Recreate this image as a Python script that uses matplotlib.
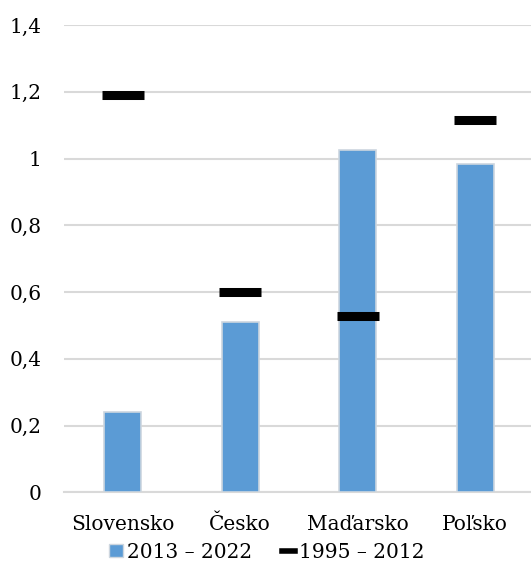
import matplotlib
matplotlib.use("Agg")
import matplotlib.pyplot as plt
from matplotlib.patches import Patch
from matplotlib.lines import Line2D
import numpy as np

krajiny = ["Slovensko", "Česko", "Maďarsko", "Poľsko"]
obdobie_2013_2022 = [0.24, 0.51, 1.026, 0.983]
obdobie_1995_2012 = [1.19, 0.60, 0.527, 1.116]
y_ticks = [0, 0.2, 0.4, 0.6, 0.8, 1.0, 1.2, 1.4]
y_labels = ["0", "0,2", "0,4", "0,6", "0,8", "1", "1,2", "1,4"]

plt.rcParams["font.family"] = ["DejaVu Serif"]
plt.rcParams["font.size"] = 14.5

fig = plt.figure(figsize=(5.31, 5.84), dpi=100)
ax = fig.add_axes([64 / 531, (584 - 492.3) / 584, 470 / 531, 467.3 / 584])

x = np.arange(len(krajiny))
ax.bar(x, obdobie_2013_2022, width=0.315, color="#5B9BD5",
       edgecolor="#cdd6df", linewidth=1.2, zorder=3)
ax.hlines(obdobie_1995_2012, x - 0.178, x + 0.178, color="black",
          linewidth=6.5, zorder=4)

ax.set_xlim(-0.5, 3.5)
ax.set_ylim(0, 1.4)
ax.set_yticks(y_ticks)
ax.set_yticklabels(y_labels)
ax.set_xticks(x)
ax.set_xticklabels(krajiny)
ax.grid(axis="y", color="#d9d9d9", linewidth=1.5, zorder=0)
ax.set_axisbelow(True)
for s in ["top", "right", "left"]:
    ax.spines[s].set_visible(False)
ax.spines["bottom"].set_color("#d9d9d9")
ax.spines["bottom"].set_linewidth(1.5)
ax.tick_params(axis="y", length=0, pad=16, colors="black")
ax.tick_params(axis="x", length=0, pad=16, colors="black")

handles = [Patch(facecolor="#5B9BD5", edgecolor="#cdd6df"),
           Line2D([0], [0], color="black", linewidth=4)]
fig.legend(handles, ["2013 – 2022", "1995 – 2012"], loc="center",
           bbox_to_anchor=(267 / 531, 1 - 552 / 584), ncol=2, frameon=False,
           handlelength=0.65, handleheight=0.6, handletextpad=0.2,
           columnspacing=1.5)

fig.savefig("out.png", dpi=100)
